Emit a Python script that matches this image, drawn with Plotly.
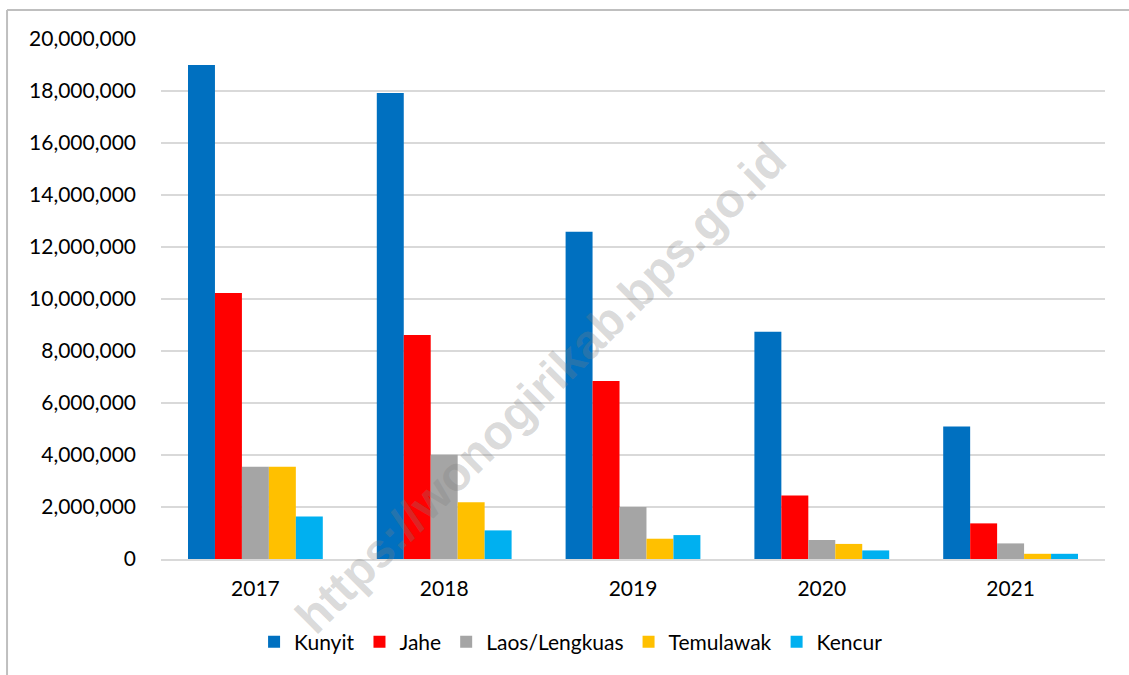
import plotly.graph_objects as go

years = ["2017", "2018", "2019", "2020", "2021"]
kunyit = [19000000, 17920000, 12590000, 8740000, 5100000]
jahe = [10230000, 8620000, 6850000, 2440000, 1370000]
laos = [3550000, 4010000, 2000000, 730000, 600000]
temulawak = [3550000, 2180000, 780000, 580000, 200000]
kencur = [1630000, 1100000, 920000, 330000, 200000]

series_names = ["Kunyit", "Jahe", "Laos/Lengkuas", "Temulawak", "Kencur"]
series_values = [kunyit, jahe, laos, temulawak, kencur]
colors = ["#0070C0", "#FF0000", "#A5A5A5", "#FFC000", "#00B0F0"]
y_ticks = list(range(0, 20000001, 2000000))

fig = go.Figure()
for name, vals, col in zip(series_names, series_values, colors):
    fig.add_trace(go.Bar(x=years, y=vals, name=name, marker_color=col,
                         marker_line_width=0))

font_family = "Lato"
fig.update_layout(
    width=1129, height=675,
    margin=dict(l=161, r=24, t=39, b=116),
    paper_bgcolor="white", plot_bgcolor="white",
    barmode="group", bargap=0.286, bargroupgap=0,
    font=dict(family=font_family, size=21, color="#000000"),
    showlegend=True,
    legend=dict(orientation="h", x=0.4344, xanchor="center", y=-0.16, yanchor="middle",
                font=dict(size=21), itemwidth=30, traceorder="normal"),
    xaxis=dict(showgrid=False, showline=True, linecolor="#D9D9D9", linewidth=2,
               ticks="", ticklabelstandoff=10, tickfont=dict(size=21)),
    yaxis=dict(range=[0, 20000000], tickvals=y_ticks, tickformat=",d",
               showgrid=True, gridcolor="#D9D9D9", gridwidth=2,
               zeroline=False, showline=False, ticks="",
               ticklabelstandoff=24, tickfont=dict(size=21)),
)

# Outer chart border: only the top and left edges are inside the picture
border = dict(color="#BFBFBF", width=2)
fig.add_shape(type="line", xref="paper", yref="paper",
              x0=-0.1631, x1=1.3, y0=1.0558, y1=1.0558, line=border, layer="below")
fig.add_shape(type="line", xref="paper", yref="paper",
              x0=-0.1631, x1=-0.1631, y0=-0.5, y1=1.0558, line=border, layer="below")

# Watermark
fig.add_annotation(text="<b>https://wonogirikab.bps.go.id</b>", xref="paper", yref="paper",
                   x=0.4015, y=0.3288, xanchor="center", yanchor="middle",
                   textangle=-45, showarrow=False,
                   font=dict(family="Liberation Sans", size=48, color="rgba(128,128,128,0.3)"))

fig.write_html("out.html", config={"displayModeBar": False},
               post_script="document.body.style.margin='0';document.body.style.overflow='hidden';")
